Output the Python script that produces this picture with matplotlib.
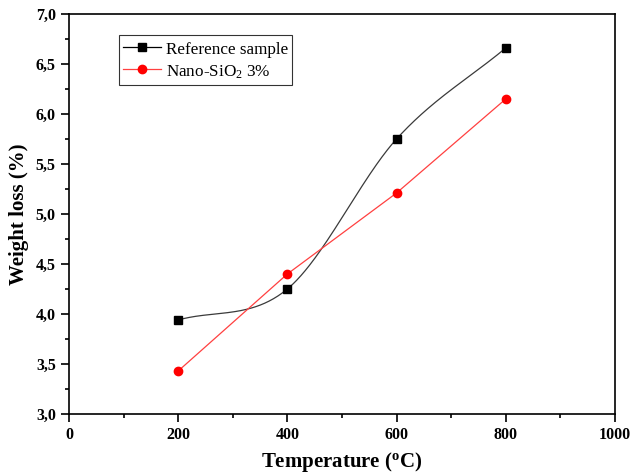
import numpy as np
import matplotlib
matplotlib.use('Agg')
import matplotlib.pyplot as plt
from matplotlib.ticker import MultipleLocator, FuncFormatter

plt.rcParams['font.family'] = 'Liberation Serif'
plt.rcParams['mathtext.fontset'] = 'custom'
plt.rcParams['mathtext.rm'] = 'Liberation Serif'
plt.rcParams['mathtext.it'] = 'Liberation Serif:italic'
plt.rcParams['mathtext.bf'] = 'Liberation Serif:bold'

temperature = [200, 400, 600, 800]
reference = [3.94, 4.25, 5.75, 6.66]
nano_sio2 = [3.43, 4.40, 5.21, 6.15]


def smooth(x, y, xs):
    # cubic Hermite through the points, centred-difference slopes (Origin "spline" look)
    x = np.asarray(x, float)
    y = np.asarray(y, float)
    h = np.diff(x)
    m = np.empty_like(y)
    m[1:-1] = (y[2:] - y[:-2]) / (x[2:] - x[:-2])
    m[0] = (y[1] - y[0]) / h[0]
    m[-1] = (y[-1] - y[-2]) / h[-1]
    out = np.empty_like(xs)
    for i, xv in enumerate(xs):
        k = min(np.searchsorted(x, xv, side='right') - 1, len(x) - 2)
        t = (xv - x[k]) / h[k]
        h00 = 2 * t**3 - 3 * t**2 + 1
        h10 = t**3 - 2 * t**2 + t
        h01 = -2 * t**3 + 3 * t**2
        h11 = t**3 - t**2
        out[i] = h00 * y[k] + h10 * h[k] * m[k] + h01 * y[k + 1] + h11 * h[k] * m[k + 1]
    return out


fig = plt.figure(figsize=(6.3, 4.75), dpi=100)
ax = fig.add_axes([0.1095, 0.1284, 0.8665, 0.8421])

xs = np.linspace(temperature[0], temperature[-1], 300)
ax.plot(xs, smooth(temperature, reference, xs), color='#3a3a3a', lw=0.9)
ax.plot(temperature, reference, ls='none', marker='s', ms=5.3, color='black')
ax.plot(temperature, nano_sio2, color='#ff4040', lw=0.9)
ax.plot(temperature, nano_sio2, ls='none', marker='o', ms=6, color='red')

# legend proxies
ax.plot([], [], color='black', lw=0.9, marker='s', ms=5.3, label='Reference sample')
ax.plot([], [], color='#ff4040', lw=0.9, marker='o', ms=6, mfc='red', mec='red',
        label='Nano-SiO$_2$ 3%')
leg = ax.legend(loc='upper left', bbox_to_anchor=(0.0916, 0.9475), fontsize=12.3,
                frameon=True, fancybox=False, handlelength=2.2, handleheight=1.25,
                borderpad=0.25, labelspacing=0.2, handletextpad=0.3, borderaxespad=0)
leg.get_frame().set_edgecolor('black')
leg.get_frame().set_linewidth(0.8)

ax.set_xlim(0, 1000)
ax.set_ylim(3.0, 7.0)
ax.xaxis.set_major_locator(MultipleLocator(200))
ax.xaxis.set_minor_locator(MultipleLocator(100))
ax.yaxis.set_major_locator(MultipleLocator(0.5))
ax.yaxis.set_minor_locator(MultipleLocator(0.25))
ax.yaxis.set_major_formatter(FuncFormatter(lambda v, p: ('%.1f' % v).replace('.', ',')))

ax.tick_params(which='both', direction='out', top=False, right=False, width=1.2)
ax.tick_params(which='major', length=6, labelsize=11.5)
ax.tick_params(which='minor', length=3)
for lab in ax.get_xticklabels() + ax.get_yticklabels():
    lab.set_fontweight('bold')
for s in ax.spines.values():
    s.set_linewidth(1.2)

ax.set_xlabel(r'Temperature ($\mathbf{^o}$C)', fontsize=15, fontweight='bold', labelpad=5)
ax.set_ylabel('Weight loss (%)', fontsize=15, fontweight='bold', labelpad=5)

fig.savefig('out.png', dpi=100)
